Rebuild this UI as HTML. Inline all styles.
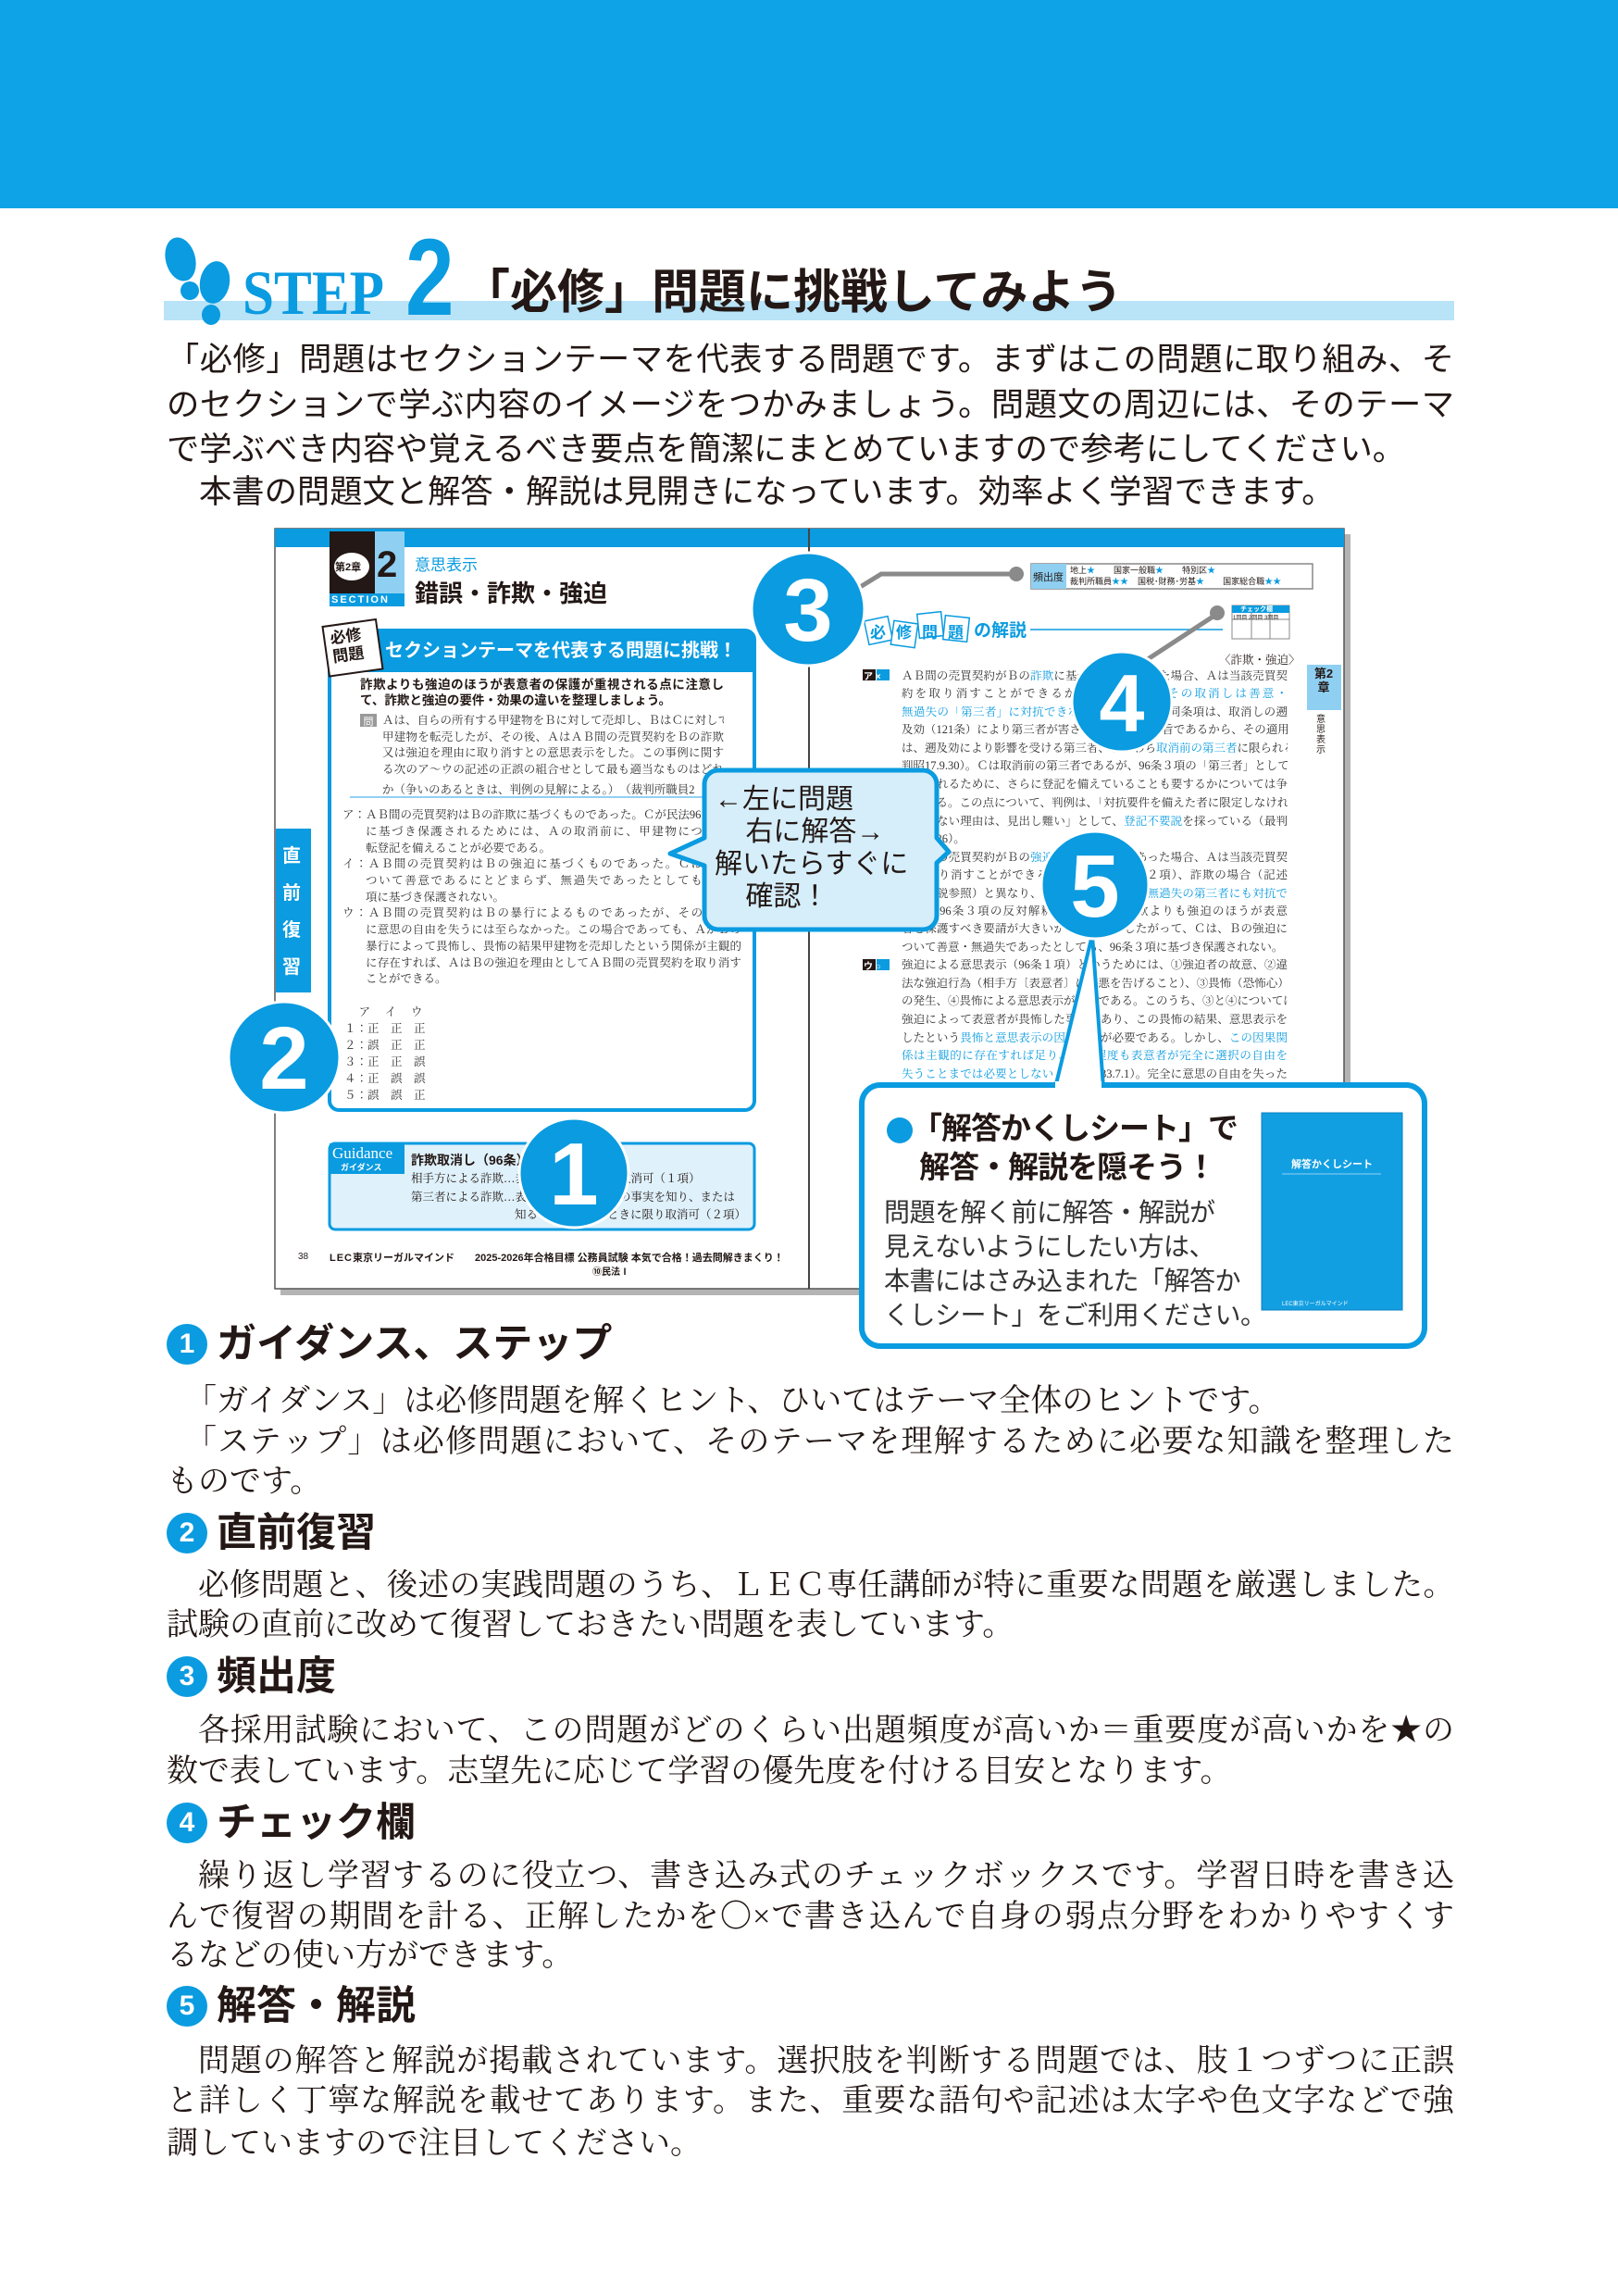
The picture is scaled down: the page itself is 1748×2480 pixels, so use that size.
<!DOCTYPE html>
<html><head><meta charset="utf-8">
<style>
*{margin:0;padding:0;box-sizing:border-box}
body{width:1748px;height:2480px;position:relative;background:#fff;overflow:hidden;font-family:"Liberation Sans","Noto Sans CJK JP",sans-serif;color:#231815}
.a{position:absolute;white-space:nowrap}
.p{position:absolute;white-space:nowrap;font-size:35.3px;line-height:36px;left:180px;width:1391px}
.j{text-align:justify;text-align-last:justify}
.s{position:absolute;white-space:nowrap;font-family:"Liberation Serif","Noto Serif CJK JP",serif;font-size:34px;line-height:36px;left:180px;width:1391px}
.h{position:absolute;left:180px;font-size:43px;line-height:44px;font-weight:bold;white-space:nowrap}
.h i{display:inline-block;width:44px;height:44px;border-radius:50%;background:#0a9be0;color:#fff;font-style:normal;font-size:30px;line-height:44px;text-align:center;vertical-align:top;margin-right:10px}
.t{position:absolute;white-space:nowrap;font-family:"Liberation Serif","Noto Serif CJK JP",serif;font-size:12.5px;line-height:13px;color:#333;text-align:justify;text-align-last:justify;overflow:hidden}
.b{color:#0a9be0}
</style></head><body>
<div class="a" style="left:0;top:0;width:1748px;height:225px;background:#0ea3e6"></div>
<!-- title -->
<div class="a" style="left:177px;top:325px;width:1394px;height:21px;background:#b9e3f7"></div>
<svg class="a" style="left:170px;top:250px" width="90" height="110"><ellipse cx="25" cy="30" rx="16" ry="24" fill="#0a9be0" transform="rotate(-15 25 30)"/><ellipse cx="35" cy="64" rx="10" ry="10" fill="#0a9be0"/><ellipse cx="62" cy="55" rx="16" ry="23" fill="#0a9be0" transform="rotate(10 62 55)"/><ellipse cx="58" cy="90" rx="10" ry="11" fill="#0a9be0"/></svg>
<div class="a" style="left:262px;top:283px;font-family:'Liberation Serif',serif;font-weight:bold;font-size:68px;line-height:66px;color:#0a9be0;transform:scaleX(0.9);transform-origin:left">STEP</div>
<div class="a" style="left:438px;top:250px;font-weight:bold;font-size:118px;line-height:100px;color:#0a9be0;transform:scaleX(0.8);transform-origin:left">2</div>
<div class="a" style="left:500px;top:290px;font-weight:bold;font-size:51px;line-height:52px;color:#231815">「必修」問題に挑戦してみよう</div>
<!-- intro -->
<div class="p j" style="top:371px">「必修」問題はセクションテーマを代表する問題です。まずはこの問題に取り組み、そ</div>
<div class="p j" style="top:420px">のセクションで学ぶ内容のイメージをつかみましょう。問題文の周辺には、そのテーマ</div>
<div class="p" style="top:468px">で学ぶべき内容や覚えるべき要点を簡潔にまとめていますので参考にしてください。</div>
<div class="p" style="top:514px;padding-left:35px">本書の問題文と解答・解説は見開きになっています。効率よく学習できます。</div>

<!-- book base -->
<svg class="a" style="left:0;top:0" width="1748" height="1500">
<rect x="303" y="577" width="1156" height="822" fill="#777" opacity="0.55"/>
<rect x="297" y="571" width="1155" height="821" fill="#fff" stroke="#555" stroke-width="1.5"/>
<rect x="297" y="571" width="1155" height="20" fill="#0a9be0"/>
<line x1="874" y1="571" x2="874" y2="1392" stroke="#444" stroke-width="2"/>
<rect x="356" y="574" width="49" height="81" fill="#231815"/>
<rect x="405" y="574" width="32" height="81" fill="#8fd0f2"/>
<rect x="356" y="641" width="81" height="14" fill="#0a9be0"/>
<ellipse cx="380" cy="612" rx="19" ry="15" fill="#fff"/>
<rect x="356" y="681" width="459" height="518" rx="10" fill="#fff" stroke="#0a9be0" stroke-width="4"/>
<path d="M356 723 V691 a10 10 0 0 1 10 -10 H805 a10 10 0 0 1 10 10 V723 Z" fill="#0a9be0"/>
<rect x="356" y="723" width="459" height="3" fill="#0a9be0"/>
<line x1="378" y1="861" x2="800" y2="861" stroke="#6cc2ee" stroke-width="1.5"/>
<g transform="rotate(-8 379 700)"><rect x="352" y="673" width="58" height="54" fill="#fff" stroke="#231815" stroke-width="2"/></g>
<rect x="298" y="895" width="38" height="177" fill="#0a9be0"/>
<rect x="356" y="1235" width="459" height="93" rx="6" fill="#dff1fb" stroke="#0a9be0" stroke-width="3"/>
<rect x="356" y="1235" width="81" height="33" fill="#0a9be0"/>
<!-- right page -->
<rect x="1114" y="609" width="304" height="27" fill="#fff" stroke="#888" stroke-width="1.5"/>
<rect x="1114" y="609" width="38" height="27" fill="#8fd0f2"/>
<rect x="1331" y="654" width="62" height="36" fill="#fff" stroke="#888" stroke-width="1"/>
<rect x="1331" y="654" width="62" height="8" fill="#0a9be0"/>
<line x1="1352" y1="662" x2="1352" y2="690" stroke="#888"/><line x1="1372" y1="662" x2="1372" y2="690" stroke="#888"/><line x1="1331" y1="669" x2="1393" y2="669" stroke="#888"/>
<line x1="1113" y1="680" x2="1321" y2="680" stroke="#0a9be0" stroke-width="1.5"/>
<rect x="1412" y="718" width="37" height="49" fill="#8fd0f2"/>
<rect x="932" y="723" width="14" height="12" fill="#231815"/><rect x="947" y="723" width="14" height="12" fill="#0a9be0"/>
<rect x="932" y="1036" width="14" height="12" fill="#231815"/><rect x="947" y="1036" width="14" height="12" fill="#0a9be0"/>
<g fill="#fff" stroke="#0a9be0" stroke-width="1.5">
<rect x="936" y="668" width="26" height="26" transform="rotate(-12 949 681)"/>
<rect x="964" y="672" width="26" height="26" transform="rotate(8 977 685)"/>
<rect x="992" y="662" width="26" height="26" transform="rotate(-6 1005 675)"/>
<rect x="1020" y="666" width="26" height="26" transform="rotate(6 1033 679)"/>
</g>
</svg>
<!-- left page texts -->
<div class="a" style="left:362px;top:604px;font-size:11px;font-weight:bold;color:#231815">第2章</div>
<div class="a" style="left:407px;top:590px;font-size:40px;line-height:40px;font-weight:bold;color:#231815">2</div>
<div class="a" style="left:358px;top:642px;font-size:11px;line-height:12px;color:#fff;font-weight:bold;letter-spacing:2px">SECTION</div>
<div class="a" style="left:448px;top:602px;font-size:17px;line-height:18px;color:#0a9be0">意思表示</div>
<div class="a" style="left:448px;top:627px;font-size:26px;line-height:28px;font-weight:bold">錯誤・詐欺・強迫</div>
<div class="a" style="left:416px;top:692px;font-size:20px;line-height:22px;font-weight:bold;color:#fff">セクションテーマを代表する問題に挑戦！</div>
<div class="a" style="left:358px;top:678px;font-size:17px;line-height:20px;font-weight:bold;transform:rotate(-8deg)">必修<br>問題</div>
<div class="t" style="left:389px;top:732px;width:393px;font-weight:bold;font-family:'Liberation Sans','Noto Sans CJK JP',sans-serif;font-size:13.5px;line-height:15px;color:#231815">詐欺よりも強迫のほうが表意者の保護が重視される点に注意し</div>
<div class="a" style="left:389px;top:749px;font-weight:bold;font-size:13.5px;line-height:15px">て、詐欺と強迫の要件・効果の違いを整理しましょう。</div>
<div class="a" style="left:389px;top:771px;width:18px;height:14px;background:#999;color:#fff;font-size:11px;text-align:center">問</div>
<div class="t" style="left:413px;top:772px;width:369px">Ａは、自らの所有する甲建物をＢに対して売却し、ＢはＣに対して</div>
<div class="t" style="left:413px;top:790px;width:369px">甲建物を転売したが、その後、ＡはＡＢ間の売買契約をＢの詐欺</div>
<div class="t" style="left:413px;top:807px;width:369px">又は強迫を理由に取り消すとの意思表示をした。この事例に関す</div>
<div class="t" style="left:413px;top:825px;width:369px">る次のア〜ウの記述の正誤の組合せとして最も適当なものはどれ</div>
<div class="a" style="left:413px;top:843px;font-family:'Liberation Serif','Noto Serif CJK JP',serif;font-size:12.5px;color:#333">か（争いのあるときは、判例の見解による。）　（裁判所職員2</div>
<div class="a t" style="left:370px;top:874px;width:431px;text-align:left;text-align-last:left">ア：ＡＢ間の売買契約はＢの詐欺に基づくものであった。Ｃが民法96</div>
<div class="t" style="left:395px;top:892px;width:406px">に基づき保護されるためには、Ａの取消前に、甲建物について所</div>
<div class="a t" style="left:395px;top:910px;text-align:left;text-align-last:left">転登記を備えることが必要である。</div>
<div class="t" style="left:370px;top:927px;width:431px">イ：ＡＢ間の売買契約はＢの強迫に基づくものであった。Ｃは、Ｂの</div>
<div class="t" style="left:395px;top:945px;width:406px">ついて善意であるにとどまらず、無過失であったとしても、民法</div>
<div class="a t" style="left:395px;top:963px;text-align:left;text-align-last:left">項に基づき保護されない。</div>
<div class="t" style="left:370px;top:980px;width:431px">ウ：ＡＢ間の売買契約はＢの暴行によるものであったが、その際、Ａ</div>
<div class="t" style="left:395px;top:998px;width:406px">に意思の自由を失うには至らなかった。この場合であっても、ＡがＢの</div>
<div class="t" style="left:395px;top:1016px;width:406px">暴行によって畏怖し、畏怖の結果甲建物を売却したという関係が主観的</div>
<div class="t" style="left:395px;top:1034px;width:406px">に存在すれば、ＡはＢの強迫を理由としてＡＢ間の売買契約を取り消す</div>
<div class="a t" style="left:395px;top:1051px;text-align:left;text-align-last:left">ことができる。</div>
<div class="a" style="left:372px;top:1084px;font-family:'Liberation Serif','Noto Serif CJK JP',serif;font-size:12.5px;line-height:18px;color:#333;white-space:pre">     ア     イ     ウ
１：正    正    正
２：誤    正    正
３：正    正    誤
４：正    誤    誤
５：誤    誤    正</div>
<div class="a" style="left:305px;top:905px;width:24px;font-size:20px;line-height:40px;color:#fff;font-weight:bold;white-space:normal">直前復習</div>
<div class="a" style="left:359px;top:1236px;font-family:'Liberation Serif',serif;font-size:17px;color:#fff">Guidance</div>
<div class="a" style="left:368px;top:1254px;font-size:9px;color:#fff;font-weight:bold">ガイダンス</div>
<div class="a" style="left:444px;top:1243px;font-size:14px;font-weight:bold">詐欺取消し（96条）</div>
<div class="a" style="left:444px;top:1263px;font-size:12.5px;font-family:'Liberation Serif','Noto Serif CJK JP',serif">相手方による詐欺…表意者は意思表示を取消可（１項）</div>
<div class="a" style="left:444px;top:1283px;font-size:12.5px;font-family:'Liberation Serif','Noto Serif CJK JP',serif">第三者による詐欺…表意者は相手方がその事実を知り、または</div>
<div class="a" style="left:556px;top:1302px;font-size:12.5px;font-family:'Liberation Serif','Noto Serif CJK JP',serif">知ることができたときに限り取消可（２項）</div>
<div class="a" style="left:322px;top:1352px;font-size:10px">38</div>
<div class="a" style="left:356px;top:1350px;font-size:11px;font-weight:bold"><span style="letter-spacing:1px">LEC</span>東京リーガルマインド　　2025-2026年合格目標 公務員試験 本気で合格！過去問解きまくり！</div>
<div class="a" style="left:640px;top:1365px;font-size:10px;font-weight:bold">⑩民法Ⅰ</div>
<!-- right page texts -->
<div class="a" style="left:1116px;top:615px;font-size:11px">頻出度</div>
<div class="a" style="left:1156px;top:610px;font-size:9px;line-height:12px;white-space:pre">地上<span class="b">★</span>        国家一般職<span class="b">★</span>        特別区<span class="b">★</span>
裁判所職員<span class="b">★★</span>    国税･財務･労基<span class="b">★</span>        国家総合職<span class="b">★★</span></div>
<div class="a" style="left:1340px;top:653px;font-size:7px;color:#fff;font-weight:bold">チェック欄</div>
<div class="a" style="left:1332px;top:662px;font-size:6px;white-space:pre">1回目 2回目 3回目</div>
<div class="a" style="left:940px;top:669px;font-size:17px;font-weight:bold;color:#0a9be0;letter-spacing:11px">必修問題</div>
<div class="a" style="left:1052px;top:666px;font-size:19px;font-weight:bold;color:#0a9be0">の解説</div>
<div class="a" style="left:1317px;top:703px;font-size:12.5px;font-family:'Liberation Serif','Noto Serif CJK JP',serif">〈詐欺・強迫〉</div>
<div class="a" style="left:1416px;top:720px;width:28px;font-size:13px;line-height:15px;font-weight:bold;white-space:normal;text-align:center">第2章</div>
<div class="a" style="left:1422px;top:772px;width:14px;font-size:10px;line-height:11px;white-space:normal">意思表示</div>
<div class="t" style="left:974px;top:724px;width:417px">ＡＢ間の売買契約がＢの<span class="b">詐欺</span>に基づくものであった場合、Ａは当該売買契</div>
<div class="t" style="left:974px;top:743px;width:417px">約を取り消すことができるが（96条１項）、<span class="b">その取消しは善意・</span></div>
<div class="t" style="left:974px;top:763px;width:417px"><span class="b">無過失の「第三者」に対抗できない</span>（同条３項）。同条項は、取消しの遡</div>
<div class="t" style="left:974px;top:782px;width:417px">及効（121条）により第三者が害されるのを防ぐ趣旨であるから、その適用</div>
<div class="t" style="left:974px;top:802px;width:417px">は、遡及効により影響を受ける第三者、すなわち<span class="b">取消前の第三者</span>に限られる（大</div>
<div class="t" style="left:974px;top:821px;width:417px">判昭17.9.30）。Ｃは取消前の第三者であるが、96条３項の「第三者」として</div>
<div class="t" style="left:974px;top:841px;width:417px">保護されるために、さらに登記を備えていることも要するかについては争</div>
<div class="t" style="left:974px;top:861px;width:417px">いがある。この点について、判例は、「対抗要件を備えた者に限定しなけれ</div>
<div class="t" style="left:974px;top:881px;width:417px">ばならない理由は、見出し難い」として、<span class="b">登記不要説</span>を採っている（最判</div>
<div class="a t" style="left:974px;top:900px;text-align:left;text-align-last:left">昭49.9.26）。</div>
<div class="t" style="left:974px;top:920px;width:417px">ＡＢ間の売買契約がＢの<span class="b">強迫</span>に基づくものであった場合、Ａは当該売買契</div>
<div class="t" style="left:974px;top:939px;width:417px">約を取り消すことができる（96条１項、同条２項）、詐欺の場合（記述</div>
<div class="t" style="left:974px;top:959px;width:417px">アの解説参照）と異なり、<span class="b">その取消しは善意・無過失の第三者にも対抗で</span></div>
<div class="t" style="left:974px;top:978px;width:417px"><span class="b">きる</span>（96条３項の反対解釈）。これは、詐欺よりも強迫のほうが表意</div>
<div class="t" style="left:974px;top:997px;width:417px">者を保護すべき要請が大きいからである。したがって、Ｃは、Ｂの強迫に</div>
<div class="a t" style="left:974px;top:1017px;text-align:left;text-align-last:left">ついて善意・無過失であったとしても、96条３項に基づき保護されない。</div>
<div class="t" style="left:974px;top:1036px;width:417px">強迫による意思表示（96条１項）というためには、①強迫者の故意、②違</div>
<div class="t" style="left:974px;top:1056px;width:417px">法な強迫行為（相手方〔表意者〕に害悪を告げること）、③畏怖（恐怖心）</div>
<div class="t" style="left:974px;top:1075px;width:417px">の発生、④畏怖による意思表示が必要である。このうち、③と④については、</div>
<div class="t" style="left:974px;top:1095px;width:417px">強迫によって表意者が畏怖した事実があり、この畏怖の結果、意思表示を</div>
<div class="t" style="left:974px;top:1115px;width:417px">したという<span class="b">畏怖と意思表示の因果関係</span>が必要である。しかし、<span class="b">この因果関</span></div>
<div class="t" style="left:974px;top:1134px;width:417px"><span class="b">係は主観的に存在すれば足り、その程度も表意者が完全に選択の自由を</span></div>
<div class="t" style="left:974px;top:1154px;width:417px"><span class="b">失うことまでは必要としない</span>（最判昭33.7.1）。完全に意思の自由を失った</div>
<div class="a" style="left:933px;top:722px;font-size:10px;color:#fff;font-weight:bold;white-space:pre">ア ×</div>
<div class="a" style="left:933px;top:1035px;font-size:10px;color:#fff;font-weight:bold;white-space:pre">ウ ○</div>

<!-- overlays -->
<svg class="a" style="left:0;top:0" width="1748" height="1500">
<polyline points="926,636 952,620 1096,620" fill="none" stroke="#8a8a8a" stroke-width="5"/>
<circle cx="1098" cy="620" r="8" fill="#8a8a8a"/>
<line x1="1240" y1="712" x2="1315" y2="663" stroke="#8a8a8a" stroke-width="5"/>
<circle cx="1315" cy="662" r="8" fill="#8a8a8a"/>
<path d="M776 832 H997 a15 15 0 0 1 15 15 V905 L1025 920 L1012 932 V989 a15 15 0 0 1 -15 15 H776 a15 15 0 0 1 -15 -15 V935 L724 922 L761 905 V847 a15 15 0 0 1 15 -15 Z" fill="#d5eefa" stroke="#0a9be0" stroke-width="5" stroke-linejoin="round"/>
<polygon points="1140,1175 1180,1010 1192,1175" fill="#fff" stroke="#0a9be0" stroke-width="4"/>
<rect x="931" y="1172" width="608" height="282" rx="20" fill="#fff" stroke="#0a9be0" stroke-width="6"/>
<rect x="1140" y="1168" width="50" height="10" fill="#fff"/>
<rect x="1363" y="1202" width="152" height="213" fill="#129fe2" stroke="#0a7fc0"/>
<line x1="1385" y1="1268" x2="1492" y2="1268" stroke="#fff" stroke-width="0.8" opacity="0.7"/>
<g fill="#0a9be0" stroke="#fff" stroke-width="3">
<circle cx="873" cy="658" r="61"/>
<circle cx="307" cy="1142" r="60"/>
<circle cx="620" cy="1267" r="59"/>
<circle cx="1212" cy="758" r="54"/>
<circle cx="1183" cy="956" r="58"/>
</g>
<g fill="#fff" font-family="Liberation Sans,sans-serif" font-weight="bold" text-anchor="middle">
<text x="873" y="692" font-size="96">3</text>
<text x="307" y="1176" font-size="96">2</text>
<text x="620" y="1301" font-size="96">1</text>
<text x="1212" y="790" font-size="88">4</text>
<text x="1183" y="990" font-size="96">5</text>
</g>
<circle cx="972" cy="1221" r="14" fill="#0a9be0"/>
</svg>
<div class="a" style="left:772px;top:846px;font-size:30px;line-height:35px;white-space:pre">←左に問題
    右に解答→
解いたらすぐに
    確認！</div>
<div class="a" style="left:985px;top:1198px;font-size:33px;line-height:42px;font-weight:bold;white-space:pre;letter-spacing:-1px">「解答かくしシート」で
 解答・解説を隠そう！</div>
<div class="a" style="left:955px;top:1291px;font-size:28px;line-height:37px;white-space:pre;color:#333;letter-spacing:-0.5px">問題を解く前に解答・解説が
見えないようにしたい方は、
本書にはさみ込まれた「解答か
くしシート」をご利用ください。</div>
<div class="a" style="left:1363px;top:1249px;width:152px;text-align:center;font-size:11px;color:#fff;font-weight:bold">解答かくしシート</div>
<div class="a" style="left:1385px;top:1403px;font-size:6px;color:#fff">LEC東京リーガルマインド</div>

<!-- lower explanations -->
<div class="h" style="top:1430px"><i>1</i>ガイダンス、ステップ</div>
<div class="s" style="top:1496px;padding-left:20px">「ガイダンス」は必修問題を解くヒント、ひいてはテーマ全体のヒントです。</div>
<div class="s j" style="top:1540px;padding-left:20px">「ステップ」は必修問題において、そのテーマを理解するために必要な知識を整理した</div>
<div class="s" style="top:1583px">ものです。</div>
<div class="h" style="top:1634px"><i>2</i>直前復習</div>
<div class="s j" style="top:1695px;padding-left:34px;font-size:33.5px">必修問題と、後述の実践問題のうち、ＬＥＣ専任講師が特に重要な問題を厳選しました。</div>
<div class="s" style="top:1738px">試験の直前に改めて復習しておきたい問題を表しています。</div>
<div class="h" style="top:1789px"><i>3</i>頻出度</div>
<div class="s j" style="top:1852px;padding-left:34px">各採用試験において、この問題がどのくらい出題頻度が高いか＝重要度が高いかを★の</div>
<div class="s" style="top:1896px">数で表しています。志望先に応じて学習の優先度を付ける目安となります。</div>
<div class="h" style="top:1947px"><i>4</i>チェック欄</div>
<div class="s j" style="top:2009px;padding-left:34px">繰り返し学習するのに役立つ、書き込み式のチェックボックスです。学習日時を書き込</div>
<div class="s j" style="top:2053px">んで復習の期間を計る、正解したかを〇×で書き込んで自身の弱点分野をわかりやすくす</div>
<div class="s" style="top:2095px">るなどの使い方ができます。</div>
<div class="h" style="top:2145px"><i>5</i>解答・解説</div>
<div class="s j" style="top:2209px;padding-left:34px">問題の解答と解説が掲載されています。選択肢を判断する問題では、肢１つずつに正誤</div>
<div class="s j" style="top:2252px">と詳しく丁寧な解説を載せてあります。また、重要な語句や記述は太字や色文字などで強</div>
<div class="s" style="top:2298px">調していますので注目してください。</div>
</body></html>
